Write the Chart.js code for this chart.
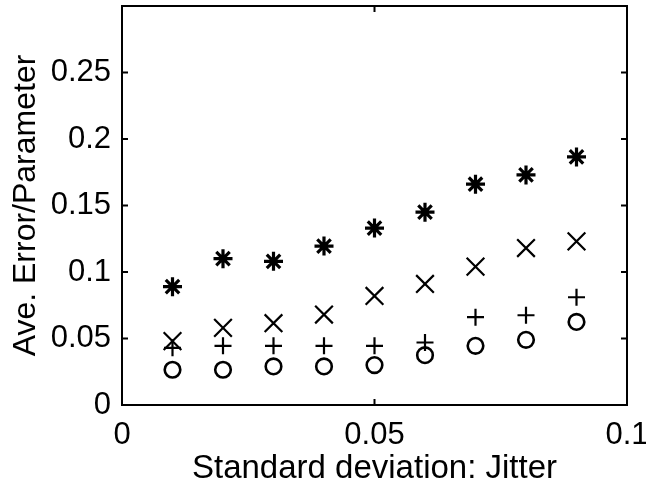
<!DOCTYPE html>
<html>
<head>
<meta charset="utf-8">
<script src="https://cdn.jsdelivr.net/npm/chart.js@4"></script>
<style>
  html, body { margin: 0; padding: 0; background: #fff; }
  #wrap { width: 646px; height: 488px; }
</style>
</head>
<body>
<div id="wrap"><canvas id="chart" width="646" height="488"></canvas></div>
<script>
// jitter levels on the x axis
const jitter = [0.01, 0.02, 0.03, 0.04, 0.05, 0.06, 0.07, 0.08, 0.09];

// average error per parameter, one array per marker
const starVals   = [0.089, 0.110, 0.108, 0.1195, 0.133, 0.145, 0.166, 0.173, 0.1865];
const xVals      = [0.048, 0.058, 0.0615, 0.068, 0.082, 0.091, 0.104, 0.118, 0.123];
const plusVals   = [0.043, 0.0445, 0.0445, 0.0445, 0.0445, 0.047, 0.066, 0.0675, 0.081];
const circleVals = [0.0265, 0.0265, 0.029, 0.029, 0.030, 0.0375, 0.0445, 0.049, 0.0625];

const xTicks = [0, 0.05, 0.1];
const yTicks = [0, 0.05, 0.1, 0.15, 0.2, 0.25];

const FONT = "'Liberation Sans', Arial, Helvetica, sans-serif";

function pts(vals) {
    return jitter.map((x, i) => ({ x: x, y: vals[i] }));
}

function series(vals, style, radius, width) {
    return {
        data: pts(vals),
        pointStyle: style,
        pointRadius: radius,
        pointHoverRadius: radius,
        pointBorderWidth: width,
        pointBorderColor: "#000",
        pointBackgroundColor: "rgba(0,0,0,0)",
        showLine: false,
    };
}

// kill the automatic label overhang padding so the plot box sits where it should
function noPad(s) {
    s.paddingLeft = 0; s.paddingRight = 0; s.paddingTop = 0; s.paddingBottom = 0;
}

// box around the plot plus matlab-style inward ticks
const boxTicks = {
    id: "boxTicks",
    afterDraw(chart) {
        const { ctx, chartArea: a, scales } = chart;
        ctx.save();
        ctx.strokeStyle = "#000";
        ctx.lineWidth = 2;
        ctx.strokeRect(a.left, a.top, a.right - a.left, a.bottom - a.top);
        const len = 6;
        ctx.beginPath();
        xTicks.forEach(v => {
            const px = scales.x.getPixelForValue(v);
            ctx.moveTo(px, a.bottom); ctx.lineTo(px, a.bottom - len);
            ctx.moveTo(px, a.top); ctx.lineTo(px, a.top + len);
        });
        yTicks.forEach(v => {
            const py = scales.y.getPixelForValue(v);
            ctx.moveTo(a.left, py); ctx.lineTo(a.left + len, py);
            ctx.moveTo(a.right, py); ctx.lineTo(a.right - len, py);
        });
        ctx.stroke();
        ctx.restore();
    }
};

new Chart(document.getElementById("chart"), {
    type: "scatter",
    data: {
        datasets: [
            series(circleVals, "circle", 7.8, 2.6),
            series(plusVals, "cross", 8.5, 2.2),
            series(xVals, "crossRot", 12.5, 2.2),
            series(starVals, "star", 9.5, 3.2),
        ],
    },
    options: {
        responsive: false,
        animation: false,
        layout: { autoPadding: false, padding: { top: 6, right: 19, left: 0, bottom: 0 } },
        plugins: {
            legend: { display: false },
            tooltip: { enabled: false },
        },
        scales: {
            x: {
                type: "linear",
                min: 0,
                max: 0.1,
                afterFit: s => { s.height = 83; noPad(s); },
                afterBuildTicks: s => { s.ticks = xTicks.map(v => ({ value: v })); },
                grid: { display: false, drawTicks: false },
                border: { display: false },
                ticks: {
                    color: "#000",
                    padding: 12,
                    maxRotation: 0,
                    font: { family: FONT, size: 31 },
                    callback: v => String(Math.round(v * 1000) / 1000),
                },
                title: {
                    display: true,
                    text: "Standard deviation: Jitter",
                    color: "#000",
                    font: { family: FONT, size: 33 },
                    padding: { top: 0, bottom: -1 },
                },
            },
            y: {
                type: "linear",
                min: 0,
                max: 0.3,
                afterFit: s => { s.width = 122; noPad(s); },
                afterBuildTicks: s => { s.ticks = yTicks.map(v => ({ value: v })); },
                grid: { display: false, drawTicks: false },
                border: { display: false },
                ticks: {
                    color: "#000",
                    padding: 11,
                    font: { family: FONT, size: 31 },
                    callback: v => String(Math.round(v * 100) / 100),
                },
                title: {
                    display: true,
                    text: "Ave. Error/Parameter",
                    color: "#000",
                    font: { family: FONT, size: 32 },
                    padding: { top: 7, bottom: 0 },
                },
            },
        },
    },
    plugins: [boxTicks],
});
</script>
</body>
</html>
